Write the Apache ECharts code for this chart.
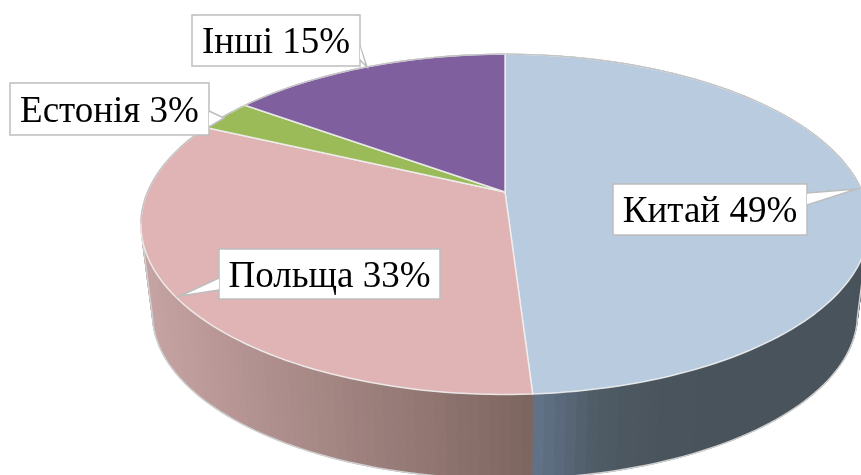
<!DOCTYPE html>
<html><head><meta charset="utf-8">
<style>html,body{margin:0;padding:0;background:#fff}#c{width:861px;height:475px}</style>
<script src="https://cdn.jsdelivr.net/npm/echarts@6/dist/echarts.min.js"></script>
</head><body><div id="c"></div>
<script>
const categories = ['Китай', 'Польща', 'Естонія', 'Інші'];
const shares = [49, 33, 3, 15];

const topColors = ['#b8cbdf', '#e0b4b4', '#9bbb59', '#7f5f9e'];
const wallRamps = [
  ['#63748a', '#4e5a65', '#4a545c', '#49535b', '#49535b', '#49535b'],
  ['#c6a3a3', '#7d655f'],
  ['#7d8c4e', '#7d8c4e'],
  ['#5f4878', '#5f4878']
];
const wallRange = [[533, 860], [143, 533], [143, 533], [143, 533]];
const labelBoxes = [
  { box: [613, 184, 194, 51], tip: [857, 189], base: [[807, 193], [807, 205]] },
  { box: [219, 249, 221, 50], tip: [180, 296], base: [[219, 278], [219, 290]] },
  { box: [10, 83, 199, 52], tip: [224, 118], base: [[209, 111], [209, 127]] },
  { box: [192, 15, 168, 51], tip: [367, 67], base: [[360, 46], [360, 60]] }
];

const G = { cx: 505, cy: 192, A: 164, B: 357.5, k: 0.19, depth: 91, shrink: 0.968, step: 0.004 };
const total = shares.reduce((a, b) => a + b, 0);
const starts = shares.reduce((acc, v, i) => { acc.push(i ? acc[i - 1] + shares[i - 1] : 0); return acc; }, []);

function depthAt(frac) { return -Math.cos(2 * Math.PI * frac); }
function rim(frac, lower) {
  const th = 2 * Math.PI * frac, s = lower ? G.shrink : 1, dy = lower ? G.depth : 0;
  const x = Math.sin(th), y = -Math.cos(th), w = 1 - G.k * y;
  return [G.cx + G.B * s * x / w, G.cy + dy + G.A * s * y / w];
}
function fracs(i) {
  const a = starts[i] / total, b = (starts[i] + shares[i]) / total, out = [];
  const n = Math.ceil((b - a) / G.step);
  for (let j = 0; j <= n; j++) out.push(a + (b - a) * j / n);
  return out;
}
const data = categories.map((c, i) => ({ name: c, value: shares[i] }));

function renderWall(params) {
  const i = params.dataIndex, fs = fracs(i), children = [];
  const [x0, x1] = wallRange[i];
  for (let j = 0; j < fs.length - 1; j++) {
    const u0 = rim(fs[j], false), u1 = rim(fs[j + 1], false), l0 = rim(fs[j], true), l1 = rim(fs[j + 1], true);
    const f = Math.max(0, Math.min(1, ((u0[0] + u1[0]) / 2 - x0) / (x1 - x0)));
    const col = echarts.color.lerp(f, wallRamps[i]);
    children.push({ type: 'polygon', shape: { points: [u0, u1, l1, l0] },
      style: { fill: col, stroke: col, lineWidth: 1 } });
  }
  const near = fs.map((f, j) => j).filter(j => depthAt(fs[j]) >= G.k);
  if (near.length) {
    const pts = near.map(j => rim(fs[j], true));
    if (near[0] > 0) pts.unshift(rim(fs[near[0]], false));
    if (near[near.length - 1] < fs.length - 1) pts.push(rim(fs[near[near.length - 1]], false));
    children.push({ type: 'polyline', shape: { points: pts },
      style: { fill: null, stroke: '#cfcfcf', lineWidth: 1.5 } });
  }
  return { type: 'group', children };
}
function renderTop(params) {
  const i = params.dataIndex, fs = fracs(i);
  const pts = [[G.cx, G.cy]].concat(fs.map(f => rim(f, false)));
  const children = [{ type: 'polygon', shape: { points: pts },
    style: { fill: topColors[i], stroke: 'rgba(240,240,240,0.9)', lineWidth: 1.5, lineJoin: 'round' } }];
  const back = fs.filter(f => depthAt(f) < G.k).map(f => rim(f, false));
  if (back.length > 1) children.push({ type: 'polyline', shape: { points: back },
    style: { fill: null, stroke: '#c2c2c2', lineWidth: 1.2 } });
  return { type: 'group', children };
}
function renderLabel(params) {
  const i = params.dataIndex, L = labelBoxes[i], [x, y, w, h] = L.box;
  const midX = (L.base[0][0] + L.base[1][0]) / 2, midY = (L.base[0][1] + L.base[1][1]) / 2;
  const inner = [midX + (L.tip[0] - midX) * 0.6, midY + (L.tip[1] - midY) * 0.6];
  return { type: 'group', children: [
    { type: 'polygon', shape: { points: [L.base[0], L.tip, L.base[1]] },
      style: { fill: '#fff', stroke: '#bdbdbd', lineWidth: 1.5 } },
    { type: 'rect', shape: { x, y, width: w, height: h },
      style: { fill: '#fff', stroke: '#bdbdbd', lineWidth: 1.5 } },
    { type: 'polygon', shape: { points: [[L.base[0][0], L.base[0][1] + 1], inner, [L.base[1][0], L.base[1][1] - 1]] },
      style: { fill: '#fff' } },
    { type: 'text', style: { x: x + w / 2, y: y + h / 2 + 3,
        text: categories[i] + ' ' + shares[i] + '%',
        font: '37px "Liberation Serif"', fill: '#000', align: 'center', verticalAlign: 'middle' } }
  ] };
}
const chart = echarts.init(document.getElementById('c'), null, { renderer: 'canvas' });
chart.setOption({
  animation: false,
  backgroundColor: '#fff',
  series: [
    { type: 'custom', coordinateSystem: 'none', z: 1, data, renderItem: renderWall, silent: true },
    { type: 'custom', coordinateSystem: 'none', z: 2, data, renderItem: renderTop, silent: true },
    { type: 'custom', coordinateSystem: 'none', z: 3, data, renderItem: renderLabel, silent: true }
  ]
});
</script></body></html>
